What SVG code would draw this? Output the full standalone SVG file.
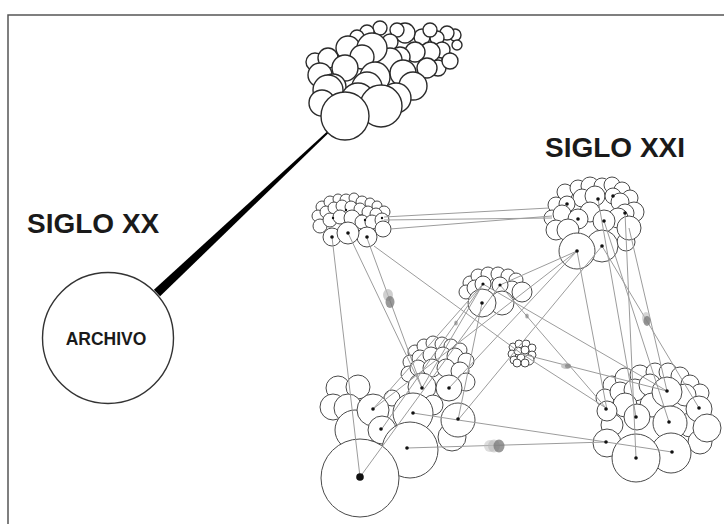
<svg xmlns="http://www.w3.org/2000/svg" width="724" height="524" viewBox="0 0 724 524">
<style>
.t circle{fill:#fff;stroke:#2b2b2b;stroke-width:1.4}
.n circle{fill:#fff;stroke:#4a4a4a;stroke-width:1}
.n circle.d{fill:#111;stroke:none}
.ln line{stroke:#9c9c9c;stroke-width:1}
.lbl{font-family:"Liberation Sans",Arial,sans-serif;font-weight:bold;fill:#1a1a1a}
.blob{fill:#777;stroke:none}
.halo{fill:#bbb;stroke:none}
</style>
<rect width="724" height="524" fill="#fff"/>
<path d="M8 524 V15 H724" fill="none" stroke="#555" stroke-width="1.5"/>

<text class="lbl" x="27" y="233" font-size="28">SIGLO XX</text>
<text class="lbl" x="545" y="157" font-size="28">SIGLO XXI</text>

<g id="archivo">
<circle cx="108" cy="338" r="65.5" fill="#fff" stroke="#333" stroke-width="1.4"/>
<text class="lbl" x="106" y="345" font-size="17.5" text-anchor="middle">ARCHIVO</text>
</g>

<g id="thick-link">
<polygon points="153.9,289.7 160.1,296.3 328.3,133.2 326.9,131.8" fill="#000"/>
</g>

<g id="siglo20-cluster" class="t">
<circle cx="455" cy="35" r="6"/><circle cx="457" cy="45" r="5"/><circle cx="447" cy="33" r="7"/>
<circle cx="437" cy="38" r="7"/><circle cx="422" cy="37" r="8"/><circle cx="430" cy="30" r="7"/>
<circle cx="405" cy="33" r="10"/><circle cx="397" cy="30" r="7"/><circle cx="380" cy="28" r="7"/>
<circle cx="367" cy="32" r="7"/><circle cx="357" cy="37" r="7"/><circle cx="390" cy="42" r="8"/>
<circle cx="449" cy="60" r="7"/><circle cx="442" cy="50" r="8"/><circle cx="430" cy="52" r="10"/>
<circle cx="415" cy="52" r="10"/><circle cx="400" cy="57" r="10"/><circle cx="438" cy="68" r="8"/>
<circle cx="427" cy="68" r="10"/><circle cx="390" cy="60" r="12"/><circle cx="348" cy="48" r="12"/>
<circle cx="372" cy="48" r="15"/><circle cx="362" cy="57" r="12"/><circle cx="315" cy="62" r="9"/>
<circle cx="328" cy="58" r="10"/><circle cx="320" cy="75" r="12"/><circle cx="345" cy="68" r="13"/>
<circle cx="403" cy="73" r="13"/><circle cx="375" cy="77" r="15"/><circle cx="333" cy="87" r="13"/>
<circle cx="328" cy="90" r="15"/><circle cx="367" cy="87" r="15"/><circle cx="450" cy="61" r="8"/>
<circle cx="413" cy="86" r="14"/><circle cx="322" cy="103" r="13"/><circle cx="358" cy="100" r="17"/>
<circle cx="396" cy="98" r="15"/>
<circle cx="381" cy="106" r="21"/>
<circle cx="345" cy="116" r="24"/>
</g>

<g id="c1" class="n">
<circle cx="322" cy="207" r="6"/><circle cx="330" cy="202" r="6"/><circle cx="338" cy="199" r="5"/>
<circle cx="346" cy="200" r="6"/><circle cx="354" cy="198" r="5"/><circle cx="362" cy="202" r="6"/>
<circle cx="370" cy="203" r="5"/><circle cx="377" cy="206" r="5"/><circle cx="384" cy="212" r="6"/>
<circle cx="318" cy="216" r="6"/><circle cx="326" cy="212" r="6"/><circle cx="334" cy="208" r="6"/>
<circle cx="342" cy="206" r="6"/><circle cx="351" cy="207" r="6"/><circle cx="360" cy="209" r="6"/>
<circle cx="368" cy="212" r="6"/><circle cx="376" cy="214" r="6"/><circle cx="320" cy="226" r="7"/>
<circle cx="330" cy="220" r="7"/><circle cx="340" cy="217" r="7"/><circle cx="352" cy="218" r="8"/>
<circle cx="362" cy="222" r="7"/><circle cx="372" cy="222" r="7"/><circle cx="382" cy="220" r="7"/>
<circle cx="383" cy="229" r="8"/>
<circle cx="332" cy="237" r="9"/><circle cx="367" cy="237" r="10"/><circle cx="348" cy="233" r="11"/>
</g>

<g id="c2" class="n">
<circle cx="565" cy="192" r="8"/><circle cx="578" cy="188" r="8"/><circle cx="590" cy="186" r="9"/>
<circle cx="602" cy="186" r="8"/><circle cx="612" cy="185" r="8"/><circle cx="622" cy="190" r="8"/>
<circle cx="630" cy="198" r="8"/><circle cx="556" cy="205" r="8"/><circle cx="582" cy="198" r="9"/>
<circle cx="595" cy="196" r="10"/><circle cx="613" cy="196" r="8"/><circle cx="620" cy="202" r="9"/>
<circle cx="567" cy="204" r="8"/><circle cx="552" cy="218" r="8"/><circle cx="562" cy="214" r="9"/>
<circle cx="590" cy="212" r="10"/><circle cx="634" cy="212" r="10"/><circle cx="625" cy="213" r="9"/>
<circle cx="578" cy="219" r="10"/><circle cx="618" cy="218" r="10"/><circle cx="604" cy="221" r="11"/>
<circle cx="556" cy="230" r="10"/><circle cx="568" cy="230" r="11"/><circle cx="626" cy="242" r="9"/>
<circle cx="629" cy="228" r="12"/><circle cx="602" cy="246" r="16"/><circle cx="577" cy="251" r="18"/>
</g>

<g id="c3" class="n">
<circle cx="470" cy="283" r="7"/><circle cx="478" cy="276" r="7"/><circle cx="488" cy="274" r="7"/>
<circle cx="498" cy="274" r="7"/><circle cx="508" cy="276" r="7"/><circle cx="516" cy="280" r="7"/>
<circle cx="466" cy="292" r="7"/><circle cx="475" cy="288" r="8"/><circle cx="512" cy="289" r="8"/>
<circle cx="483" cy="284" r="8"/><circle cx="500" cy="285" r="8"/><circle cx="522" cy="292" r="10"/>
<circle cx="502" cy="303" r="12"/><circle cx="482" cy="303" r="14"/>
</g>

<g id="c4" class="n">
<circle cx="513" cy="347" r="4"/><circle cx="519" cy="344" r="4"/><circle cx="526" cy="344" r="4"/>
<circle cx="532" cy="348" r="4"/><circle cx="512" cy="354" r="4"/><circle cx="518" cy="351" r="4"/>
<circle cx="525" cy="350" r="4"/><circle cx="532" cy="355" r="4"/><circle cx="514" cy="360" r="4"/>
<circle cx="521" cy="358" r="4"/><circle cx="529" cy="360" r="5"/><circle cx="517" cy="363" r="4"/>
<circle cx="525" cy="363" r="4"/>
</g>

<g id="c5" class="n">
<circle cx="415" cy="352" r="7"/><circle cx="424" cy="346" r="7"/><circle cx="433" cy="343" r="7"/>
<circle cx="442" cy="344" r="7"/><circle cx="451" cy="346" r="7"/><circle cx="460" cy="350" r="7"/>
<circle cx="410" cy="362" r="7"/><circle cx="420" cy="358" r="8"/><circle cx="431" cy="355" r="8"/>
<circle cx="443" cy="355" r="8"/><circle cx="455" cy="356" r="8"/><circle cx="466" cy="361" r="8"/>
<circle cx="409" cy="374" r="8"/><circle cx="418" cy="368" r="8"/><circle cx="432" cy="368" r="9"/>
<circle cx="446" cy="368" r="9"/><circle cx="460" cy="371" r="9"/><circle cx="466" cy="382" r="9"/>
<circle cx="422" cy="387" r="14"/><circle cx="449" cy="388" r="13"/>
</g>

<g id="c6" class="n">
<circle cx="338" cy="388" r="12"/><circle cx="358" cy="387" r="12"/><circle cx="392" cy="398" r="8"/>
<circle cx="433" cy="405" r="10"/><circle cx="452" cy="437" r="14"/>
<circle cx="333" cy="407" r="13"/><circle cx="348" cy="408" r="14"/>
<circle cx="355" cy="430" r="20"/><circle cx="373" cy="410" r="16"/><circle cx="382" cy="430" r="14"/>
<circle cx="413" cy="413" r="20"/><circle cx="458" cy="420" r="17"/>
<circle cx="410" cy="450" r="28"/><circle cx="360" cy="478" r="39"/>
</g>

<g id="c7" class="n">
<circle cx="612" cy="385" r="9"/><circle cx="625" cy="378" r="10"/><circle cx="640" cy="375" r="10"/>
<circle cx="655" cy="372" r="9"/><circle cx="668" cy="372" r="9"/><circle cx="680" cy="376" r="9"/>
<circle cx="690" cy="384" r="9"/><circle cx="700" cy="393" r="9"/><circle cx="605" cy="398" r="9"/>
<circle cx="620" cy="392" r="10"/><circle cx="635" cy="390" r="11"/><circle cx="650" cy="385" r="11"/>
<circle cx="685" cy="395" r="11"/><circle cx="612" cy="425" r="11"/><circle cx="625" cy="405" r="12"/>
<circle cx="652" cy="405" r="12"/><circle cx="690" cy="425" r="12"/><circle cx="700" cy="442" r="12"/>
<circle cx="607" cy="411" r="10"/><circle cx="667" cy="392" r="15"/><circle cx="699" cy="409" r="13"/>
<circle cx="637" cy="417" r="13"/><circle cx="670" cy="423" r="17"/><circle cx="607" cy="443" r="14"/>
<circle cx="671" cy="453" r="20"/><circle cx="636" cy="458" r="24"/><circle cx="707" cy="428" r="14"/>
</g>

<g id="connectors" class="ln">
<line x1="384" y1="217" x2="549" y2="208"/>
<line x1="384" y1="220" x2="552" y2="218"/>
<line x1="390" y1="229" x2="552" y2="216"/>
<line x1="332" y1="237" x2="360" y2="477"/>
<line x1="348" y1="233" x2="422" y2="388"/>
<line x1="367" y1="238" x2="422" y2="388"/>
<line x1="374" y1="246" x2="522" y2="354"/>
<line x1="483" y1="284" x2="373" y2="409"/>
<line x1="483" y1="284" x2="422" y2="388"/>
<line x1="482" y1="303" x2="458" y2="420"/>
<line x1="381" y1="430" x2="483" y2="284"/>
<line x1="360" y1="477" x2="500" y2="285"/>
<line x1="373" y1="409" x2="577" y2="251"/>
<line x1="449" y1="388" x2="577" y2="251"/>
<line x1="458" y1="420" x2="602" y2="246"/>
<line x1="577" y1="251" x2="500" y2="285"/>
<line x1="483" y1="284" x2="667" y2="391"/>
<line x1="500" y1="285" x2="606" y2="408"/>
<line x1="522" y1="354" x2="606" y2="408"/>
<line x1="522" y1="354" x2="667" y2="391"/>
<line x1="577" y1="251" x2="607" y2="410"/>
<line x1="598" y1="199" x2="636" y2="417"/>
<line x1="625" y1="213" x2="636" y2="458"/>
<line x1="604" y1="221" x2="669" y2="422"/>
<line x1="602" y1="246" x2="699" y2="408"/>
<line x1="629" y1="228" x2="667" y2="391"/>
<line x1="407" y1="448" x2="606" y2="442"/>
<line x1="458" y1="420" x2="606" y2="442"/>
<line x1="413" y1="413" x2="458" y2="420"/>
<line x1="606" y1="442" x2="672" y2="452"/>
</g>

<g id="blobs">
<ellipse class="halo" cx="388" cy="295" rx="5" ry="6" opacity="0.7"/>
<ellipse class="blob" cx="390" cy="302" rx="4.5" ry="6" opacity="0.75"/>
<ellipse class="halo" cx="646" cy="318" rx="4" ry="6" opacity="0.6"/>
<ellipse class="blob" cx="647" cy="321" rx="3.5" ry="5" opacity="0.75"/>
<ellipse class="halo" cx="490" cy="446" rx="6" ry="6" opacity="0.5"/>
<ellipse class="halo" cx="494" cy="446" rx="6" ry="6.5" opacity="0.6"/>
<ellipse class="blob" cx="499" cy="446" rx="5.5" ry="6.5" opacity="0.75"/>
<ellipse class="halo" cx="566" cy="366" rx="5" ry="3" opacity="0.8"/>
<ellipse class="blob" cx="568" cy="366" rx="3" ry="2.5" opacity="0.6"/>
<ellipse class="blob" cx="527" cy="316" rx="1.8" ry="2.5" opacity="0.6"/>
<ellipse class="blob" cx="456" cy="323" rx="1.8" ry="2.5" opacity="0.6"/>
</g>

<g id="dots" class="n">
<circle class="d" cx="332" cy="237" r="1.8"/><circle class="d" cx="348" cy="233" r="1.8"/><circle class="d" cx="367" cy="237" r="1.8"/>
<circle class="d" cx="333" cy="218" r="1.2"/><circle class="d" cx="346" cy="210" r="1.2"/><circle class="d" cx="365" cy="220" r="1.2"/><circle class="d" cx="382" cy="218" r="1.2"/>
<circle class="d" cx="567" cy="204" r="1.8"/><circle class="d" cx="598" cy="199" r="1.8"/><circle class="d" cx="613" cy="196" r="1.8"/>
<circle class="d" cx="625" cy="213" r="1.8"/><circle class="d" cx="578" cy="219" r="1.8"/><circle class="d" cx="604" cy="221" r="1.8"/>
<circle class="d" cx="577" cy="251" r="1.8"/><circle class="d" cx="602" cy="246" r="1.8"/>
<circle class="d" cx="483" cy="284" r="1.6"/><circle class="d" cx="500" cy="285" r="1.6"/><circle class="d" cx="482" cy="303" r="1.8"/>
<circle class="d" cx="422" cy="388" r="1.8"/><circle class="d" cx="449" cy="388" r="1.8"/>
<circle class="d" cx="360" cy="477" r="3.8"/><circle class="d" cx="373" cy="409" r="1.8"/><circle class="d" cx="381" cy="429" r="1.8"/>
<circle class="d" cx="413" cy="413" r="1.8"/><circle class="d" cx="407" cy="448" r="1.8"/><circle class="d" cx="458" cy="419" r="1.8"/>
<circle class="d" cx="636" cy="458" r="1.8"/><circle class="d" cx="672" cy="452" r="1.8"/><circle class="d" cx="636" cy="417" r="1.8"/>
<circle class="d" cx="669" cy="422" r="1.8"/><circle class="d" cx="667" cy="391" r="1.8"/><circle class="d" cx="699" cy="408" r="1.8"/>
<circle class="d" cx="606" cy="442" r="1.8"/><circle class="d" cx="606" cy="409" r="1.8"/>
</g>
</svg>
